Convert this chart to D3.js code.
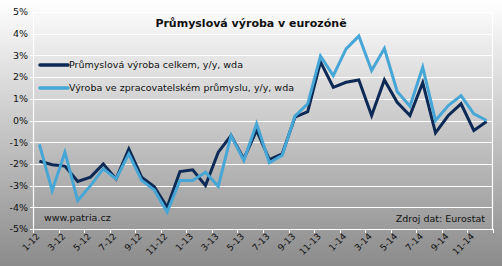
<!DOCTYPE html>
<html>
<head>
<meta charset="utf-8">
<script src="https://cdn.jsdelivr.net/npm/d3@7"></script>
<style>
  body { margin: 0; }
  svg text { font-family: "DejaVu Sans", Verdana, sans-serif; fill: #111; }
</style>
</head>
<body>
<div id="chart"></div>
<script>
// months 1-12 .. 12-14
var months = [];
for (var yr = 12; yr <= 14; yr++) {
    for (var m = 1; m <= 12; m++) months.push(m + "-" + yr);
}
var celkem = [
    -1.87, -2.04, -2.10, -2.81, -2.61, -2.00, -2.69, -1.31, -2.61, -3.05,
    -4.00, -2.35, -2.27, -3.00, -1.46, -0.69, -1.77, -0.46, -1.80, -1.54,
     0.15,  0.41,  2.70,  1.53,  1.76,  1.87,  0.23,  1.87,  0.84,  0.23,
     1.74, -0.57,  0.23,  0.77, -0.46, -0.05
];
var zpracovatelsky = [
    -1.10, -3.23, -1.46, -3.69, -3.00, -2.23, -2.69, -1.54, -2.76, -3.20,
    -4.22, -2.76, -2.76, -2.38, -3.04, -0.69, -1.84, -0.15, -1.95, -1.60,
     0.20,  0.77,  2.97,  2.07,  3.30,  3.89,  2.30,  3.32,  1.34,  0.66,
     2.45,  0.00,  0.69,  1.15,  0.31,  0.00
];
var yTicks = [-5, -4, -3, -2, -1, 0, 1, 2, 3, 4, 5];
var seriesNames = ["Průmyslová výroba celkem, y/y, wda", "Výroba ve zpracovatelském průmyslu, y/y, wda"];
var seriesColors = ["#0c2a55", "#46a6d6"];

var W = 502, H = 266;
var margin = {top: 12, right: 9, bottom: 37, left: 33};
var width = W - margin.left - margin.right,
    height = H - margin.top - margin.bottom;

var svg = d3.select("#chart").append("svg")
    .attr("width", W)
    .attr("height", H);

var grad = svg.append("defs").append("linearGradient")
    .attr("id", "bg")
    .attr("x1", 0).attr("y1", 0).attr("x2", 0).attr("y2", 1);
grad.append("stop").attr("offset", "0%").attr("stop-color", "#ffffff");
grad.append("stop").attr("offset", "100%").attr("stop-color", "#8b8b8b");

svg.append("rect").attr("width", W).attr("height", H).attr("fill", "url(#bg)");

var g = svg.append("g")
    .attr("transform", "translate(" + margin.left + "," + margin.top + ")");

var x = d3.scaleBand().domain(months).range([0, width]).padding(0);
var y = d3.scaleLinear().domain([-5, 5]).range([height, 0]);
var cx = function(d) { return x(d) + x.bandwidth() / 2; };

// gridlines
g.selectAll(".grid")
    .data(yTicks)
    .join("line")
    .attr("x1", 0).attr("x2", width)
    .attr("y1", d => Math.round(y(d)) + 0.5)
    .attr("y2", d => Math.round(y(d)) + 0.5)
    .attr("stroke", "#ffffff")
    .attr("stroke-width", 1.2);

// frame: left axis, right border
g.append("line").attr("x1", 0.5).attr("x2", 0.5).attr("y1", 0).attr("y2", height)
    .attr("stroke", "#fff").attr("stroke-width", 1.2);
g.append("line").attr("x1", width - 0.5).attr("x2", width - 0.5).attr("y1", 0).attr("y2", height)
    .attr("stroke", "#fff").attr("stroke-width", 1.2);

// y axis labels + ticks
g.selectAll(".ytick")
    .data(yTicks)
    .join("line")
    .attr("x1", -3).attr("x2", 0)
    .attr("y1", d => Math.round(y(d)) + 0.5)
    .attr("y2", d => Math.round(y(d)) + 0.5)
    .attr("stroke", "#fff");
g.selectAll(".ylab")
    .data(yTicks)
    .join("text")
    .attr("x", -5)
    .attr("y", d => y(d))
    .attr("dy", "0.35em")
    .attr("text-anchor", "end")
    .attr("font-size", "9.5px")
    .text(d => d + "%");

// x axis ticks every 2 months, labels on odd months
var tickPos = months.filter((d, i) => i % 2 == 0).map(d => x(d)).concat([width]);
g.selectAll(".xtick")
    .data(tickPos)
    .join("line")
    .attr("x1", d => Math.round(d) + 0.5).attr("x2", d => Math.round(d) + 0.5)
    .attr("y1", height).attr("y2", height + 4)
    .attr("stroke", "#fff");
g.selectAll(".xlab")
    .data(months.filter((d, i) => i % 2 == 0))
    .join("text")
    .attr("text-anchor", "end")
    .attr("font-size", "9px")
    .attr("transform", d => "translate(" + (cx(d) + 1) + "," + (height + 8) + ") rotate(-45)")
    .text(d => d);

// lines (manufacturing drawn last, on top)
var line = d3.line()
    .x((d, i) => cx(months[i]))
    .y(d => y(d));
[celkem, zpracovatelsky].forEach(function(s, k) {
    g.append("path")
        .datum(s)
        .attr("fill", "none")
        .attr("stroke", seriesColors[k])
        .attr("stroke-width", 3)
        .attr("stroke-linejoin", "miter")
        .attr("d", line);
});

// title
svg.append("text")
    .attr("x", 251).attr("y", 27)
    .attr("text-anchor", "middle")
    .attr("font-size", "11px")
    .attr("font-weight", "bold")
    .text("Průmyslová výroba v eurozóně");

// legend
seriesNames.forEach(function(n, k) {
    var ly = 65 + k * 23;
    svg.append("line")
        .attr("x1", 40).attr("x2", 68).attr("y1", ly).attr("y2", ly)
        .attr("stroke", seriesColors[k]).attr("stroke-width", 3.5).attr("stroke-linecap", "round");
    svg.append("text")
        .attr("x", 69).attr("y", ly).attr("dy", "0.35em")
        .attr("font-size", "9.5px")
        .text(n);
});

// notes
svg.append("text").attr("x", 44).attr("y", 221)
    .attr("font-size", "9.5px").text("www.patria.cz");
svg.append("text").attr("x", 485).attr("y", 222)
    .attr("text-anchor", "end")
    .attr("font-size", "9.5px").text("Zdroj dat: Eurostat");
</script>
</body>
</html>
